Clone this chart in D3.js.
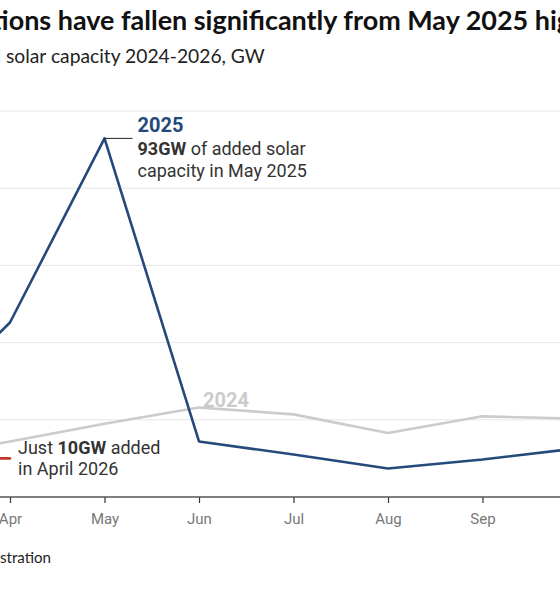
<!DOCTYPE html>
<html>
<head>
<meta charset="utf-8">
<script src="https://cdn.jsdelivr.net/npm/d3@7"></script>
<style>
  html, body { margin: 0; padding: 0; background: #fff; }
  svg { display: block; overflow: hidden; }
</style>
</head>
<body>
<svg id="chart" width="560" height="600"></svg>
<script>
// ---- data ----
const months = ["Jan","Feb","Mar","Apr","May","Jun","Jul","Aug","Sep","Oct","Nov","Dec"];
const tickMonths = ["Mar","Apr","May","Jun","Jul","Aug","Sep","Oct"];
const months2024 = ["Mar","Apr","May","Jun","Jul","Aug","Sep","Oct"];
const values2024 = [10, 14.4, 19.0, 23.2, 21.4, 16.6, 20.9, 20.3];
const months2025 = ["Mar","Apr","May","Jun","Jul","Aug","Sep","Oct"];
const values2025 = [21, 45.2, 92.9, 14.4, 11.0, 7.4, 9.7, 12.6];
const months2026 = ["Mar","Apr"];
const values2026 = [10, 10];
const yTicks = [20, 40, 60, 80, 100];

const titleText = "China's solar installations have fallen significantly from May 2025 high";
const subtitleText = "Monthly added solar capacity 2024-2026, GW";
const sourceText = "Source: National Energy Administration";

// ---- layout ----
const svg = d3.select("#chart");
const step = 94.5;
const x = d3.scalePoint().domain(months).range([10 - 3 * step, 10 + 8 * step]);
const y = d3.scaleLinear().domain([0, 100]).range([497, 111]);

const C = {
  navy: "#24497a", gray: "#cbcbcb", red: "#c8352b",
  grid: "#e6e6e6", axis: "#555", tick: "#777", text: "#333", title: "#111"
};

// place a partially cropped text so that its visible part lands where it should
function placeCropped(sel, full, prefix, visible, x0, x1, baseSize) {
  sel.text(full).attr("font-size", baseSize).attr("x", 0);
  const node = sel.node();
  const w = node.getSubStringLength(prefix.length, visible.length);
  const size = baseSize * (x1 - x0) / w;
  sel.attr("font-size", size);
  const p = node.getSubStringLength(0, prefix.length);
  sel.attr("x", x0 - p);
}

// title & subtitle
const title = svg.append("text").attr("y", 30)
  .attr("font-family", "Lato, 'Noto Sans', sans-serif").attr("font-weight", 700)
  .attr("fill", C.title);
placeCropped(title, titleText, "China's solar installat", "ions have fallen significantly from May 2025 hi", 0, 557, 22);

const subtitle = svg.append("text").attr("y", 63)
  .attr("font-family", "Lato, 'Noto Sans', sans-serif").attr("font-weight", 400)
  .attr("fill", "#222");
placeCropped(subtitle, subtitleText, "Monthly added ", "solar capacity 2024-2026, GW", 6, 265, 18);

// gridlines
svg.append("g").selectAll("line").data(yTicks).join("line")
  .attr("x1", 0).attr("x2", 560)
  .attr("y1", d => y(d)).attr("y2", d => y(d))
  .attr("stroke", C.grid).attr("stroke-width", 1);

// x axis
const xAxis = svg.append("g").attr("transform", `translate(0,${y(0)})`)
  .call(d3.axisBottom(x).tickValues(tickMonths).tickSize(6).tickPadding(6).tickSizeOuter(0));
xAxis.select(".domain").remove();
xAxis.append("line").attr("x1", 0).attr("x2", 560).attr("y1", 0).attr("y2", 0)
  .attr("stroke", C.axis).attr("stroke-width", 1.5);
xAxis.selectAll(".tick line").attr("stroke", "#333").attr("stroke-width", 1.2);
xAxis.selectAll(".tick text")
  .attr("font-family", "Roboto, sans-serif").attr("font-size", 15)
  .attr("fill", C.tick).attr("dy", null).attr("y", 27);

// lines
const line = d3.line().x(d => x(d[0])).y(d => y(d[1]));
function drawSeries(ms, vs, color) {
  svg.append("path").datum(ms.map((m, i) => [m, vs[i]]))
    .attr("d", line).attr("fill", "none").attr("stroke", color)
    .attr("stroke-width", 2.6).attr("stroke-linejoin", "round").attr("stroke-linecap", "round");
}
drawSeries(months2024, values2024, C.gray);
drawSeries(months2025, values2025, C.navy);
drawSeries(months2026, values2026, C.red);

// annotations
const font = "Roboto, sans-serif";
const aSize = 18;
// 2024 label
svg.append("text").attr("x", x("Jun") + 4).attr("y", y(values2024[3]))
  .attr("font-family", font).attr("font-weight", 700).attr("font-size", 20)
  .attr("fill", C.gray).text("2024");

// 2025 peak annotation
const peakX = x("May"), peakY = y(values2025[2]);
svg.append("line").attr("x1", peakX).attr("x2", peakX + 28)
  .attr("y1", peakY).attr("y2", peakY).attr("stroke", "#222").attr("stroke-width", 1);
svg.append("text").attr("x", peakX + 33).attr("y", peakY - 6)
  .attr("font-family", font).attr("font-weight", 700).attr("font-size", 20)
  .attr("fill", C.navy).text("2025");
const a1 = svg.append("text").attr("x", peakX + 33).attr("y", peakY + 17)
  .attr("font-family", font).attr("font-size", aSize).attr("fill", C.text);
a1.append("tspan").attr("font-weight", 700).text(Math.round(values2025[2]) + "GW");
a1.append("tspan").text(" of added solar");
svg.append("text").attr("x", peakX + 33).attr("y", peakY + 39)
  .attr("font-family", font).attr("font-size", aSize).attr("fill", C.text)
  .text("capacity in May 2025");

// 2026 annotation
const aprX = x("Apr"), aprY = y(values2026[1]);
const a2 = svg.append("text").attr("x", aprX + 8).attr("y", aprY - 4)
  .attr("font-family", font).attr("font-size", aSize).attr("fill", C.text);
a2.append("tspan").text("Just ");
a2.append("tspan").attr("font-weight", 700).text(values2026[1] + "GW");
a2.append("tspan").text(" added");
svg.append("text").attr("x", aprX + 8).attr("y", aprY + 17)
  .attr("font-family", font).attr("font-size", aSize).attr("fill", C.text)
  .text("in April 2026");

// source
const source = svg.append("text").attr("y", 563)
  .attr("font-family", "Lato, 'Noto Sans', sans-serif").attr("fill", "#222");
placeCropped(source, sourceText, "Source: National Energy Admini", "stration", 0, 51, 15);
</script>
</body>
</html>
